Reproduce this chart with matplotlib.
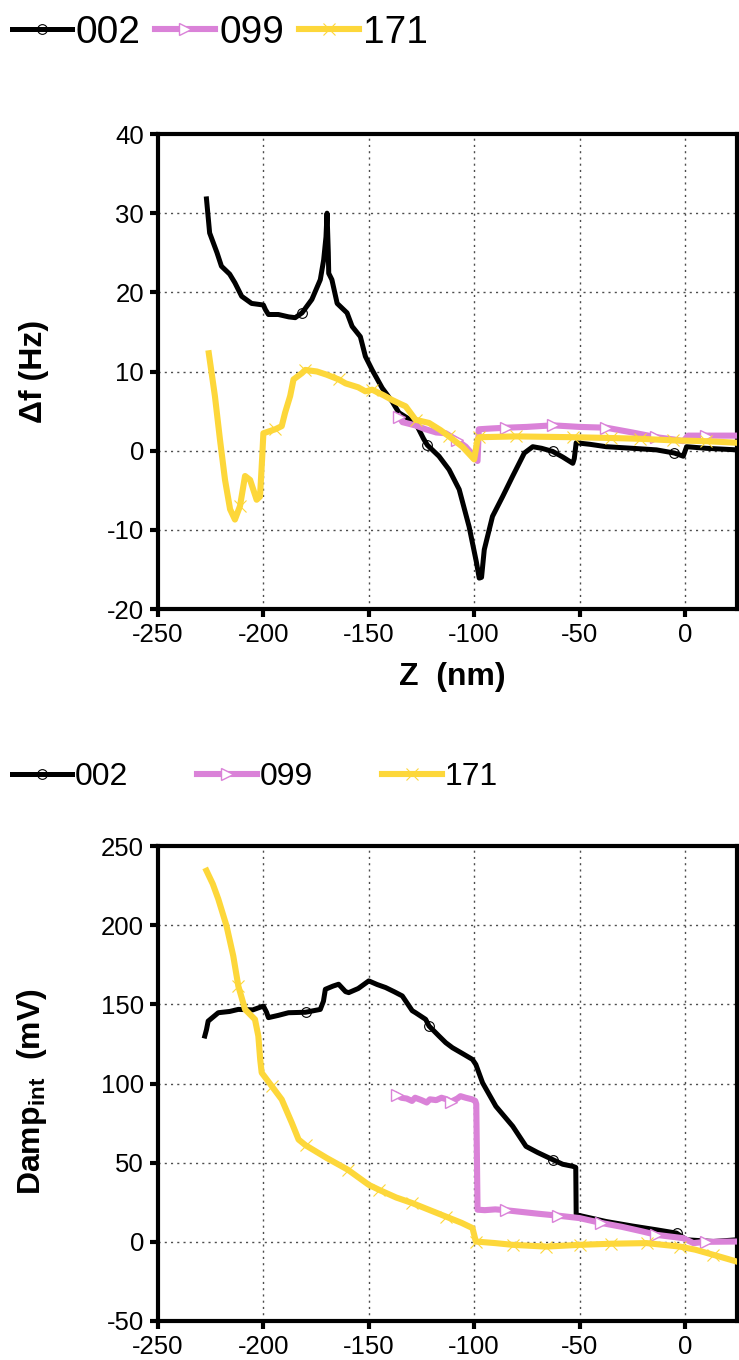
import numpy as np
import matplotlib
matplotlib.use('Agg')
import matplotlib.pyplot as plt

plt.rcParams['font.family'] = ['Liberation Sans', 'DejaVu Sans']
plt.rcParams['mathtext.fontset'] = 'custom'
plt.rcParams['mathtext.rm'] = 'Liberation Sans'
plt.rcParams['mathtext.bf'] = 'Liberation Sans:bold'
plt.rcParams['axes.unicode_minus'] = False

# ---- data: top panel (delta f vs Z) ----
z_002_top = [-227, -225.5, -222, -219.9, -216, -213.5, -210.3, -205.6, -200, -199, -197.6,
             -192.9, -188, -184.9, -181.7, -177, -173, -171.4, -170.3, -169.8, -169.2, -169,
             -167.5, -165, -160.3, -157.9, -154, -151.6, -148.4, -143.6, -138.9, -135.7, -131,
             -127.8, -124, -122.2, -116.7, -111.9, -107.1, -102.4, -99, -97.6, -96.5, -95.2,
             -91.3, -86.5, -81.7, -76.2, -72.2, -68, -62.7, -58, -53.2, -52.5, -51.6, -45,
             -37.3, -25, -13.5, -5, -0.8, 0.8, 10, 24.7]
df_002 = [31.8, 27.5, 25, 23.3, 22.3, 21.2, 19.5, 18.6, 18.4, 17.8, 17.2,
          17.2, 16.9, 16.8, 17.4, 19.1, 21.6, 24.1, 27, 30, 25, 22.4,
          21.6, 18.6, 17.4, 15.7, 14.4, 11.9, 10.2, 7.9, 6.2, 4.8, 4.0,
          3.5, 1.5, 0.7, -0.7, -2.4, -4.9, -9.6, -14, -16.1, -16, -12.5,
          -8.3, -5.8, -3.2, -0.3, 0.5, 0.3, -0.1, -0.8, -1.6, -1.0, 1.0, 0.8,
          0.5, 0.3, 0.1, -0.3, -0.7, 0.5, 0.3, 0.1]

z_099_top = [-135.7, -134, -132.5, -128, -123, -118, -113.5, -108, -104, -101, -100, -98.4,
             -97.8, -92, -84.9, -75, -62.7, -50, -37.3, -25, -13.5, -5, -0.8, 1.5, 10, 24.7]
df_099 = [4.3, 3.6, 3.5, 3.2, 2.7, 2.3, 2.2, 1.3, 0.5, -0.4, -0.7, -1.3,
          2.7, 2.8, 2.9, 3.0, 3.2, 3.0, 2.9, 2.3, 1.7, 1.4, 1.2, 1.9, 1.9, 1.9]

z_171_top = [-225.9, -223, -220.6, -218.2, -215.8, -213.5, -211.1, -208.7, -206.3, -203.2,
             -201.6, -200.6, -200, -194.4, -191.3, -189.7, -187.3, -185.7, -181.7, -180.1,
             -174.6, -170, -164.3, -161, -155, -151.6, -148.4, -143, -138.9, -135, -132.5,
             -127.8, -121.4, -116, -111.9, -105.6, -100, -98.4, -97.6, -80, -53.2, -35,
             -21.4, -5.6, 10, 24.7]
df_171 = [12.3, 6.9, 1.4, -3.7, -7.4, -8.7, -7.0, -3.2, -3.7, -6.2,
          -5.8, -1, 2.2, 2.7, 3.1, 4.8, 6.9, 9.0, 9.8, 10.2,
          10.0, 9.6, 9.0, 8.5, 8.0, 7.5, 7.7, 7.0, 6.4, 5.9, 5.6,
          3.9, 3.5, 2.6, 1.8, 0.5, -1.1, 1.4, 1.7, 1.8, 1.7, 1.6,
          1.5, 1.3, 1.2, 1.0]

# ---- data: bottom panel (Damp_int vs Z) ----
z_002_bot = [-227.8, -227, -226.2, -221.4, -216, -211.9, -205, -200, -198.5, -197.6, -193,
             -188.1, -180, -173, -171.5, -170.6, -167, -164.3, -161, -159.5, -155, -150,
             -146, -142, -138, -134.1, -129.4, -127.8, -123, -121.4, -116.7, -113.5, -110.3,
             -105, -100.8, -99.2, -96, -89.7, -81.7, -75.4, -70, -62.7, -58, -53.2, -51.8,
             -51.6, -37.3, -25, -13.5, -4, 0.8, 13.5, 24.7]
damp_002 = [130, 134, 139.4, 144.7, 145.5, 146.8, 146.5, 148.9, 145, 141.6, 143,
            144.7, 145, 146.8, 152, 159.5, 161.5, 162.7, 158, 157.4, 160, 164.8,
            162.5, 160.6, 158, 155.3, 146, 144.7, 140.5, 136.3, 130, 125.8, 122.6,
            118.5, 115.2, 112, 100.4, 85.6, 73, 60.3, 56.5, 51.9, 49, 47.7, 47,
            17.1, 12.8, 10, 7.6, 5.5, 1.3, 0.2, 1.3]

z_099_bot = [-136.5, -134.5, -132, -129.5, -128, -125, -122.5, -121, -118, -115.5,
             -113, -111, -108, -106.5, -104, -101, -99.5, -99, -98.4, -95, -90, -85,
             -81.7, -70, -60, -50, -40, -30, -20, -13.5, -5, -0.8, 4, 10, 24.7]
damp_099 = [92.5, 91, 90.5, 89, 91, 89.5, 88, 90, 89.5, 91,
            90, 88.5, 90.5, 92, 91, 90, 89, 87, 20.3, 20, 20.5, 20,
            19.5, 17.8, 16.5, 15, 12, 9.5, 6.5, 4.4, 3, 2.3, -0.8, 0, 0.2]

z_171_bot = [-227, -224, -221.4, -217.5, -214.3, -211.9, -208.7, -204, -202.4, -201.5,
             -200.8, -196, -191.3, -186.5, -183.3, -180, -170, -160, -150, -145.2, -137,
             -129.4, -121, -113.5, -106, -100.8, -99.2, -90, -81.7, -65.9, -50, -35,
             -18.2, -2.4, 5, 13.5, 24.7]
damp_171 = [234.4, 226, 216.5, 199.6, 180.6, 161.6, 146.8, 140.5, 130, 115,
            106.8, 98.3, 89.9, 75.1, 64.6, 61, 53, 45.6, 36, 32.9, 28,
            24.5, 20, 16, 12, 8.7, 0.2, -0.8, -1.9, -3, -1.9, -1.2,
            -0.8, -3, -5, -8.2, -12.5]

labels = ['002', '099', '171']
# where the sparse symbols sit along each trace
mk_002 = [-181, -122, -63, -4]
mk_099 = [-135.7, -110, -85, -60.5, -36, -11, 13]
mk_171 = [-212, -196, -179, -163, -146, -130, -113, -97.5, -81.5, -65, -48, -32, -16, 0.5, 17]

black = 'black'
pink = '#DA82D8'
gold = '#FDD73A'


def near(z, targets):
    z = np.asarray(z)
    return sorted(set(int(np.argmin(np.abs(z - t))) for t in targets))


def style_axes(ax, ylim, yticks):
    ax.set_xlim(-250, 24.7)
    ax.set_ylim(*ylim)
    ax.set_xticks(np.arange(-250, 1, 50))
    ax.set_yticks(yticks)
    ax.grid(True, ls=(0, (1.5, 3)), color='0.3', lw=1.0)
    for s in ax.spines.values():
        s.set_linewidth(3)
    ax.tick_params(direction='out', length=6, width=3, labelsize=18.5, pad=4)


def draw(ax, zb, yb, zp, yp, zy, yy):
    hb, = ax.plot(zb, yb, color=black, lw=3.6, marker='o', ms=7, mfc='none', mec=black,
                  mew=0.8, markevery=near(zb, mk_002), zorder=3)
    hp, = ax.plot(zp, yp, color=pink, lw=4.4, marker='>', ms=8.5, mfc='white', mec=pink,
                  mew=1.0, markevery=near(zp, mk_099), zorder=4)
    hy, = ax.plot(zy, yy, color=gold, lw=4.4, marker='x', ms=8.5, mec=gold,
                  mew=0.8, markevery=near(zy, mk_171), zorder=5)
    return [hb, hp, hy]


fig = plt.figure(figsize=(7.39, 13.6), dpi=100)
ax1 = fig.add_axes([158 / 739, 751 / 1360, 579 / 739, 475 / 1360])
ax2 = fig.add_axes([158 / 739, 39 / 1360, 579 / 739, 475 / 1360])

h1 = draw(ax1, z_002_top, df_002, z_099_top, df_099, z_171_top, df_171)
style_axes(ax1, (-20, 40), np.arange(-20, 41, 10))
ax1.set_xlabel('Z  (nm)', fontsize=23, fontweight='bold')
ax1.xaxis.set_label_coords(0.508, -0.112)
ax1.set_ylabel('Δf (Hz)', fontsize=23, fontweight='bold')
ax1.yaxis.set_label_coords(-0.188, 0.5)

h2 = draw(ax2, z_002_bot, damp_002, z_099_bot, damp_099, z_171_bot, damp_171)
style_axes(ax2, (-50, 250), np.arange(-50, 251, 50))
ax2.set_ylabel(r'Damp$_{\mathbf{int}}$  (mV)', fontsize=23, fontweight='bold')
ax2.yaxis.set_label_coords(-0.188, 0.484)

fig.legend(h1, labels, loc='center left', bbox_to_anchor=(0.016, 0.9757), ncol=3,
           frameon=False, fontsize=28, handlelength=1.54, handletextpad=0.1,
           columnspacing=0.38, borderpad=0, borderaxespad=0)
fig.legend(h2, labels, loc='center left', bbox_to_anchor=(0.016, 0.4287), ncol=3,
           frameon=False, fontsize=23, handlelength=1.875, handletextpad=0.1,
           columnspacing=2.15, borderpad=0, borderaxespad=0)

fig.savefig('out.png', dpi=100)
